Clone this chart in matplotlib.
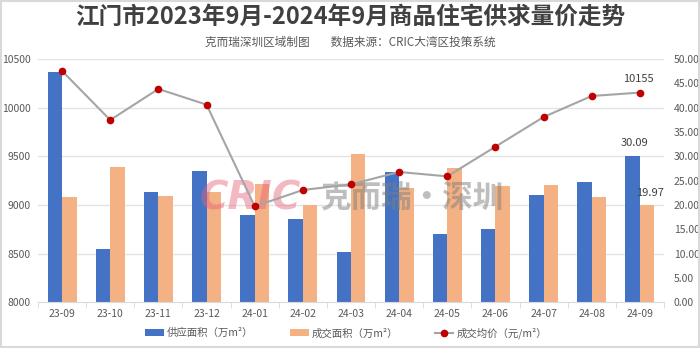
import matplotlib
matplotlib.use("Agg")
import matplotlib.pyplot as plt
import numpy as np
from matplotlib.patches import Patch, Rectangle
from matplotlib.lines import Line2D

plt.rcParams['font.family'] = ['Noto Sans CJK SC', 'DejaVu Sans']

months = ["23-09", "23-10", "23-11", "23-12", "24-01", "24-02", "24-03",
          "24-04", "24-05", "24-06", "24-07", "24-08", "24-09"]
supply = [47.26, 11.03, 22.6, 26.92, 17.88, 17.05, 10.34, 26.71, 14.04, 15.0, 21.99, 24.79, 30.09]
deal = [21.64, 27.74, 21.85, 22.74, 24.3, 19.93, 30.55, 23.49, 27.53, 23.84, 24.18, 21.64, 19.97]
price = [10377, 9873, 10192, 10031, 8986, 9154, 9212, 9339, 9294, 9599, 9904, 10120, 10155]

title = "江门市2023年9月-2024年9月商品住宅供求量价走势"
subtitle = "克而瑞深圳区域制图        数据来源：CRIC大湾区投策系统"
legend_labels = ["供应面积（万m²）", "成交面积（万m²）", "成交均价（元/m²）"]

BLUE = "#4472C4"
ORANGE = "#F4B183"
LINEC = "#A5A5A5"
RED = "#C00000"
TXT = "#595959"
FS = 7.5

fig = plt.figure(figsize=(7, 3.48), dpi=100)
ax = fig.add_axes([38/700, 1-302.3/348, (664-38)/700, (302.3-59)/348])
ax2 = ax.twinx()

x = np.arange(len(months))
w = 0.3
ax.set_xlim(-0.5, len(months)-0.5)
ax.set_ylim(0, 50)
for g in [10, 20, 30, 40, 50]:
    ax.axhline(g, color="#E4E4E4", lw=1, zorder=0)
ax.bar(x - w/2, supply, width=w, color=BLUE, zorder=2)
ax.bar(x + w/2, deal, width=w, color=ORANGE, zorder=2)

ax2.set_ylim(8000, 10500)
ax2.plot(x, price, color=LINEC, lw=1.5, marker="o", markersize=4.5,
         markerfacecolor=RED, markeredgecolor=RED, zorder=5)

# axes styling
ax.yaxis.tick_right()
ax.yaxis.set_label_position("right")
ax2.yaxis.tick_left()
ax2.yaxis.set_label_position("left")
ax.set_yticks(np.arange(0, 50.01, 5))
ax.set_yticklabels([f"{v:.2f}" for v in np.arange(0, 50.01, 5)])
ax2.set_yticks(np.arange(8000, 10501, 500))
for a in (ax, ax2):
    for s in a.spines.values():
        s.set_visible(False)
ax.spines["bottom"].set_visible(True)
ax.spines["bottom"].set_color("#D9D9D9")
ax.tick_params(axis="y", length=0, pad=7, labelsize=FS, labelcolor=TXT)
ax2.tick_params(axis="y", length=0, pad=5, labelsize=FS, labelcolor=TXT)
ax.set_xticks(x)
ax.set_xticklabels(months)
ax.set_xticks(np.arange(-0.5, len(months), 1), minor=True)
ax.tick_params(axis="x", which="major", length=0, pad=5, labelsize=FS, labelcolor=TXT)
ax.tick_params(axis="x", which="minor", length=4, color="#D9D9D9")

# data labels
ax2.annotate(f"{price[-1]}", (x[-1], price[-1]), xytext=(-1, 10), textcoords="offset points",
             ha="center", va="center", fontsize=8, color="#404040")
ax.annotate(f"{supply[-1]:.2f}", (x[-1]-w/2, supply[-1]), xytext=(1, 9), textcoords="offset points",
            ha="center", va="center", fontsize=8, color="#404040")
ax.annotate(f"{deal[-1]:.2f}", (x[-1]+w/2, deal[-1]), xytext=(2, 9), textcoords="offset points",
            ha="center", va="center", fontsize=8, color="#404040")

# watermark
ax.text(200/700, 1-198/348, "CRIC", transform=fig.transFigure, fontsize=28,
        fontweight="bold", fontstyle="italic", family="DejaVu Sans",
        color="#E8637A", alpha=0.45, ha="left", va="center", zorder=4)
ax.text(320/700, 1-198/348, "克而瑞·深圳", transform=fig.transFigure, fontsize=22,
        fontweight="bold", color="#7F7F7F", alpha=0.5, ha="left", va="center", zorder=4)

# titles
fig.text(0.5, 1-17/348, title, ha="center", va="center", fontsize=17,
         fontweight="bold", color="#404040")
fig.text(0.5, 1-42/348, subtitle, ha="center", va="center", fontsize=8.4, color=TXT)

handles = [Patch(facecolor=BLUE), Patch(facecolor=ORANGE),
           Line2D([0], [0], color=LINEC, lw=1.5, marker="o", markersize=4.5,
                  markerfacecolor=RED, markeredgecolor=RED)]
fig.legend(handles, legend_labels, loc="center", bbox_to_anchor=(346/700, 1-333/348),
           ncol=3, frameon=False, fontsize=FS, labelcolor=TXT, columnspacing=3.5,
           handlelength=1.8, handleheight=0.6, handletextpad=0.3)

fig.add_artist(Rectangle((0.002, 0.003), 0.996, 0.994, transform=fig.transFigure,
                         fill=False, edgecolor="#D9D9D9", lw=1.5))

fig.savefig("out.png", dpi=100)
